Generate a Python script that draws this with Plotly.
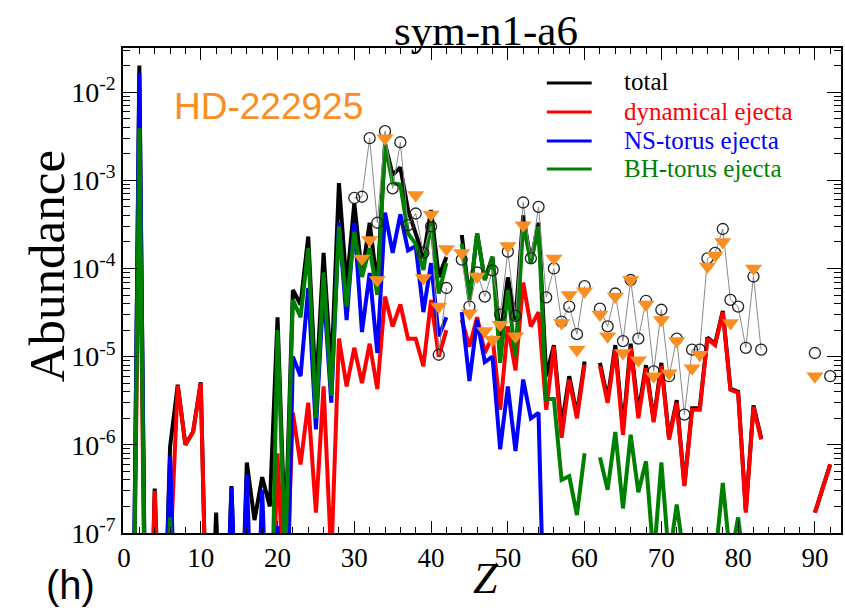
import plotly.graph_objects as go

Z = list(range(1, 93))
N = None
# values for Z = 1..92 (None = not plotted); very small numbers lie below the axis
total = [1e-10, 2.0e-2, 1e-10, 3.2e-7, 1e-9, 9.5e-7, 4.8e-6, 1.0e-6, 1.4e-6, 5.1e-6,
         1e-9, 1.7e-7, 1e-9, 3.4e-7, 1e-9, 6.3e-7, 1.4e-7, 4.3e-7, 2e-7, 2.8e-5,
         8e-8, 5.7e-5, 3.9e-5, 2.3e-4, 3.9e-6, 1.5e-4, 6.6e-6, 9.3e-4, 6.3e-5, 5.5e-4,
         8.5e-5, 3.3e-4, 6.3e-5, 2.6e-3, 1.15e-3, 1.4e-3, 4.6e-4, 2.5e-4, 1.35e-4, 4.6e-4,
         8e-5, 1.35e-4, N, 2.4e-4, 4.5e-5, 2.5e-4, 7.4e-5, 1.35e-4, 1.6e-5, 7.9e-5,
         2.6e-5, 4.0e-4, 1.2e-4, 3.3e-4, 6e-6, 1.35e-5, 1.6e-6, 6e-6, 2.2e-6, 8.8e-6,
         N, 8.5e-6, 3.3e-6, 1.35e-5, 1.5e-6, 1.4e-5, 2.3e-6, 8e-6, 1.9e-6, 8.5e-6,
         1.2e-6, 3.2e-6, 3.5e-7, 2.6e-6, 2.6e-6, 1.65e-5, 1.4e-5, 3.3e-5, 4.3e-6, 4.0e-6,
         1.8e-7, 2.8e-6, 1.2e-6, N, N, N, N, N, N, 1.7e-7,
         3.2e-7, 6e-7]
dynamical = [1e-10, 1.5e-3, 1e-10, 3e-7, 1e-9, 5e-8, 4.7e-6, 1e-6, 1.4e-6, 5e-6,
             1e-9, 1e-9, 1e-9, 1e-9, 1e-9, 1e-9, 1e-9, 1e-9, 1e-9, 8e-7,
             1e-8, 2.3e-6, 6e-7, 3e-6, 1.7e-7, 4.6e-6, 5e-8, 1.6e-5, 4.6e-6, 1.26e-5,
             5e-6, 1.4e-5, 4.3e-6, 4.8e-5, 2.2e-5, 3.9e-5, 1.6e-5, 1.6e-5, 7.8e-6, 4.4e-5,
             1e-5, 2e-5, N, 2.6e-5, 1.3e-5, 2.8e-5, 1.1e-5, 1.7e-5, 2.5e-6, 2.2e-5,
             7e-6, 6.9e-5, 2.2e-5, 3.2e-5, 2.5e-6, 1.3e-5, 1.2e-6, 5.5e-6, 2e-6, 8.1e-6,
             N, 7.8e-6, 3e-6, 1.2e-5, 1.3e-6, 1.26e-5, 2e-6, 7.4e-6, 1.8e-6, 7.8e-6,
             1.15e-6, 3e-6, 3.4e-7, 2.5e-6, 2.5e-6, 1.6e-5, 1.35e-5, 3.2e-5, 4.2e-6, 3.9e-6,
             1.7e-7, 2.7e-6, 1.15e-6, N, N, N, N, N, N, 1.7e-7,
             3.2e-7, 6e-7]
ns_torus = [1e-10, 1.65e-2, 1e-10, 1e-9, 1e-9, 7.4e-7, 1e-9, 1e-9, 1e-9, 1e-9,
            1e-9, 1e-9, 1e-9, 3.3e-7, 1e-9, 4.6e-7, 1e-9, 3.1e-7, 1e-9, 1.2e-7,
            1e-9, 1e-5, 6e-6, 6e-5, 1.5e-6, 6e-5, 3e-6, 3.3e-4, 2.6e-5, 3.3e-4,
            1.9e-5, 8.9e-5, 1.1e-5, 4.3e-4, 1.5e-4, 4.1e-4, 1.6e-4, 1.8e-4, 3.2e-5, 1.15e-4,
            1.7e-5, 2.8e-5, N, 3.2e-5, 5.3e-6, 2.6e-5, 8.7e-6, 1e-5, 8.9e-7, 4.6e-6,
            8.5e-7, 5.5e-6, 2e-6, 2.3e-6, 1e-9, N, N, N, N, N,
            N, N, N, N, N, N, N, N, N, N,
            N, N, N, N, N, N, N, N, N, N,
            N, N, N, N, N, N, N, N, N, N,
            N, N]
bh_torus = [1e-10, 3.9e-3, 1e-10, 1e-9, 1e-9, 1.5e-7, 1e-9, 1e-9, 1e-9, 1e-9,
            1e-9, 1e-9, 1e-9, 1e-9, 1e-9, 1e-9, 1e-9, 1e-9, 1e-9, 2e-5,
            5e-8, 4.4e-5, 2.8e-5, 1.7e-4, 2e-6, 9e-5, 3.6e-6, 3e-4, 3.7e-5, 2.6e-4,
            8e-5, 1.7e-4, 5e-5, 2.5e-3, 9.3e-4, 8.9e-4, 2.5e-4, 1.9e-4, 9.6e-5, 3.3e-4,
            5.2e-5, 1.15e-4, N, 1.9e-4, 4.4e-5, 2.5e-4, 7.4e-5, 1.35e-4, 8.5e-6, 5.7e-5,
            1e-5, 3.3e-4, 1.15e-4, 3e-4, 3.3e-6, 3.3e-6, 4e-7, 4.4e-7, 1.6e-7, 8e-7,
            N, 7.2e-7, 3.1e-7, 1.4e-6, 1.9e-7, 1.3e-6, 2.9e-7, 6.5e-7, 5e-8, 6.3e-7,
            5e-8, 2.1e-7, 5e-8, 3e-8, 3e-8, 5e-8, 5e-8, 3.7e-7, 5e-8, 1.5e-7,
            3e-8, 5e-8, 3e-8, N, N, N, N, N, N, N,
            N, N]

# HD-222925 observed abundances (open circles) and second set (orange triangles)
obs_Z = list(range(30, 93))
obs_circ = [6.3e-4, 6.5e-4, 3e-3, 3.3e-4, 3.6e-3, 8.1e-4, 2.7e-3, 3.1e-4, 4.2e-4, 1.5e-4,
            3e-4, 1.05e-5, 6e-5, N, 1.26e-4, 3.7e-5, 9e-5, 4.8e-5, 9.5e-5, 3e-5,
            1.55e-4, 2.9e-5, 5.6e-4, 1.3e-4, 5e-4, 4.7e-5, 1e-4, 2.5e-5, 3.7e-5, 1.8e-5,
            6.3e-5, N, 3.5e-5, 2.2e-5, 5.2e-5, 1.5e-5, 7.4e-5, 1.6e-5, 4.3e-5, 6.8e-6,
            3.4e-5, 6e-6, 1.6e-5, 2.2e-6, 1.2e-5, 1.2e-5, 1.3e-4, 1.5e-4, 2.8e-4, 4.4e-5,
            3.7e-5, 1.26e-5, 8.1e-5, 1.2e-5, N, N, N, N, N, N,
            1.1e-5, N, 6e-6]
tri_Z = [31, 32, 33, 34, 38, 39, 40, 41, 42, 44, 45, 46, 47, 48, 49, 50, 51, 52,
         56, 57, 58, 59, 60, 62, 63, 64, 65, 66, 67, 68, 69, 70, 71, 72, 74, 75,
         76, 77, 78, 79, 82, 90]
tri_val = [1.3e-4, 2.1e-4, 7.4e-5, 3e-3, 6.8e-4, 7.8e-5, 4.1e-4, 3.7e-5, 1.66e-4,
           1.5e-4, 3.1e-5, 8.1e-5, 1.95e-5, 1.55e-5, 2.3e-5, 1.8e-4, 1.7e-5, 3.1e-4,
           1.3e-4, 2.4e-5, 5e-5, 1.2e-5, 5.5e-5, 3e-5, 1.7e-5, 4.8e-5, 1.1e-5, 7.4e-5,
           9.1e-6, 3.9e-5, 6e-6, 2.6e-5, 6.5e-6, 1.5e-5, 7.4e-6, 1.05e-5, 1.05e-4,
           1.4e-4, 2e-4, 2.4e-5, 1e-4, 6e-6]

series_names = ["total", "dynamical ejecta", "NS-torus ejecta", "BH-torus ejecta"]
series_colors = ["#000000", "#ff0000", "#0000ff", "#008000"]
series_vals = [total, dynamical, ns_torus, bh_torus]

ytick_vals = [1e-7, 1e-6, 1e-5, 1e-4, 1e-3, 1e-2]
ytick_text = ["10<sup>-7</sup>", "10<sup>-6</sup>", "10<sup>-5</sup>",
              "10<sup>-4</sup>", "10<sup>-3</sup>", "10<sup>-2</sup>"]
xtick_vals = [0, 10, 20, 30, 40, 50, 60, 70, 80, 90]

ORANGE = "#f98e23"
SERIF = "Liberation Serif"
SANS = "Liberation Sans"

fig = go.Figure()
for name, col, vals in zip(series_names, series_colors, series_vals):
    fig.add_trace(go.Scatter(x=Z, y=vals, mode="lines", name=name,
                             line=dict(color=col, width=4), connectgaps=False,
                             showlegend=False))
fig.add_trace(go.Scatter(x=obs_Z, y=obs_circ, mode="lines+markers", name="HD-222925",
                         line=dict(color="#8a8a8a", width=1), connectgaps=False,
                         marker=dict(symbol="circle-open", size=11,
                                     color="#222222", line=dict(width=1.3)),
                         showlegend=False))
fig.add_trace(go.Scatter(x=tri_Z, y=tri_val, mode="markers", name="HD-222925 (2)",
                         marker=dict(symbol="triangle-down", size=15, color=ORANGE,
                                     line=dict(width=0)),
                         showlegend=False))

# plot area geometry: left 123, right 843, top 48, bottom 533
L, R, T, B = 123, 843, 48, 533
def px(xp):
    return (xp - L) / (R - L)
def py(yp):
    return (B - yp) / (B - T)

shapes = []
annotations = []
leg_rows = [83, 112, 141, 169]
for name, col, yp in zip(series_names, series_colors, leg_rows):
    shapes.append(dict(type="line", xref="paper", yref="paper",
                       x0=px(548), x1=px(593), y0=py(yp), y1=py(yp),
                       line=dict(color=col, width=3)))
    annotations.append(dict(xref="paper", yref="paper", x=px(623), y=py(yp - 1),
                            text=name, showarrow=False, xanchor="left", yanchor="middle",
                            font=dict(family=SERIF, size=25, color=col)))

annotations += [
    dict(xref="paper", yref="paper", x=px(172), y=py(106), text="HD-222925",
         showarrow=False, xanchor="left", yanchor="middle",
         font=dict(family=SANS, size=37, color=ORANGE)),
    dict(xref="paper", yref="paper", x=px(487), y=py(31), text="sym-n1-a6",
         showarrow=False, xanchor="center", yanchor="middle",
         font=dict(family=SERIF, size=43, color="black")),
    dict(xref="paper", yref="paper", x=px(487), y=py(578), text="<i>Z</i>",
         showarrow=False, xanchor="center", yanchor="middle",
         font=dict(family=SERIF, size=44, color="black")),
    dict(xref="paper", yref="paper", x=px(70), y=py(585), text="(h)",
         showarrow=False, xanchor="center", yanchor="middle",
         font=dict(family=SANS, size=40, color="black")),
    dict(xref="paper", yref="paper", x=px(47), y=py(266), text="Abundance",
         showarrow=False, xanchor="center", yanchor="middle", textangle=-90,
         font=dict(family=SERIF, size=51, color="black")),
]

minor_y = [m * 10.0 ** e for e in range(-7, -1) for m in range(2, 10)]

fig.update_layout(
    width=845, height=608,
    margin=dict(l=L, r=845 - R, t=T, b=608 - B, pad=0),
    paper_bgcolor="white", plot_bgcolor="white",
    shapes=shapes, annotations=annotations,
    xaxis=dict(range=[-0.13, 93.4], tickmode="array", tickvals=xtick_vals,
               ticks="inside", ticklen=12, tickwidth=1.2, tickcolor="black",
               minor=dict(dtick=2, tick0=0, ticks="inside", ticklen=6,
                          tickwidth=1, tickcolor="black", showgrid=False),
               showline=True, linecolor="black", linewidth=1.5, mirror="ticks",
               showgrid=False, zeroline=False,
               tickfont=dict(family=SERIF, size=27, color="black")),
    yaxis=dict(type="log", range=[-7, -1.5], tickmode="array",
               tickvals=ytick_vals, ticktext=ytick_text,
               ticks="inside", ticklen=14, tickwidth=1.2, tickcolor="black",
               minor=dict(tickmode="array", tickvals=minor_y, ticks="inside",
                          ticklen=7, tickwidth=1, tickcolor="black", showgrid=False),
               showline=True, linecolor="black", linewidth=1.5, mirror="ticks",
               showgrid=False, zeroline=False,
               tickfont=dict(family=SERIF, size=28, color="black")),
)

fig.write_html("out.html")
